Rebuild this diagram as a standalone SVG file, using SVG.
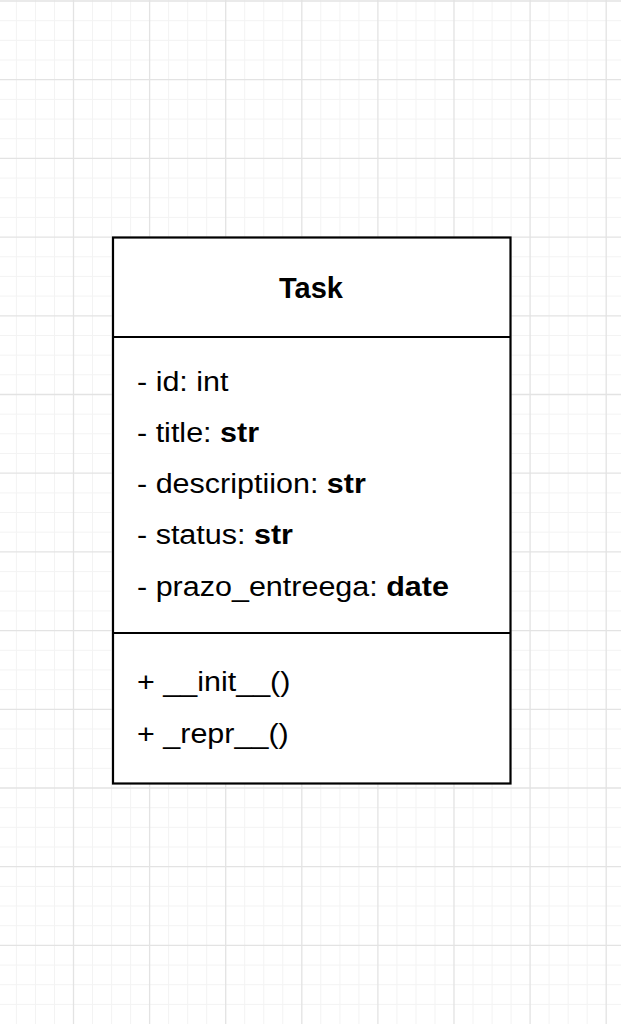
<svg xmlns="http://www.w3.org/2000/svg" width="621" height="1024" viewBox="0 0 621 1024">
<style>
.minor{stroke:#f3f3f3;stroke-width:1;fill:none}
.major{stroke:#e3e3e3;stroke-width:1.3;fill:none}
.box{fill:#ffffff;stroke:#000000;stroke-width:2.2}
.div{stroke:#000000;stroke-width:2}
.t{font-family:"Liberation Sans",Arial,Helvetica,sans-serif;font-size:27px;fill:#000000}
.b{font-weight:bold}
.title{font-family:"Liberation Sans",Arial,Helvetica,sans-serif;font-size:29px;font-weight:bold;fill:#000000}
</style>
<rect x="0" y="0" width="621" height="1024" fill="#ffffff"/>
<g id="grid">
<path class="minor" d="M16.4 0V1024M35.45 0V1024M54.5 0V1024M92.5 0V1024M111.6 0V1024M130.6 0V1024M168.6 0V1024M187.7 0V1024M206.7 0V1024M244.7 0V1024M263.8 0V1024M282.8 0V1024M320.8 0V1024M339.9 0V1024M358.9 0V1024M396.9 0V1024M416 0V1024M435 0V1024M473 0V1024M492.1 0V1024M511.1 0V1024M549.1 0V1024M568.2 0V1024M587.2 0V1024
M0 20.7H621M0 40.35H621M0 60H621M0 99.4H621M0 119.05H621M0 138.7H621M0 178.1H621M0 197.75H621M0 217.4H621M0 256.8H621M0 276.4H621M0 296.1H621M0 335.5H621M0 355.2H621M0 374.8H621M0 414.2H621M0 433.8H621M0 453.5H621M0 492.9H621M0 512.5H621M0 532.2H621M0 571.6H621M0 591.2H621M0 610.9H621M0 650.3H621M0 669.9H621M0 689.6H621M0 729H621M0 748.6H621M0 768.3H621M0 807.7H621M0 827.3H621M0 847H621M0 886.4H621M0 906H621M0 925.7H621M0 965.1H621M0 984.7H621M0 1004.4H621"/>
<path class="major" d="M73.5 0V1024M149.6 0V1024M225.7 0V1024M301.8 0V1024M377.9 0V1024M454 0V1024M530.1 0V1024M606.2 0V1024
M0 1H621M0 79.7H621M0 158.4H621M0 237.1H621M0 315.8H621M0 394.5H621M0 473.2H621M0 551.9H621M0 630.6H621M0 709.3H621M0 788H621M0 866.7H621M0 945.4H621"/>
</g>
<g id="connectors"></g>
<g id="task">
<rect class="box" x="113" y="237.5" width="397.5" height="546"/>
<line class="div" x1="113" y1="337" x2="510.5" y2="337"/>
<line class="div" x1="113" y1="633" x2="510.5" y2="633"/>
<text class="title" x="311" y="298" text-anchor="middle">Task</text>
<g transform="matrix(1.13 0 0 1 -17.8 0)">
<text class="t" x="137" y="391">- id: int</text>
<text class="t" x="137" y="442">- title: <tspan class="b">str</tspan></text>
<text class="t" x="137" y="493">- descriptiion: <tspan class="b">str</tspan></text>
<text class="t" x="137" y="544">- status: <tspan class="b">str</tspan></text>
<text class="t" x="137" y="596">- prazo_entreega: <tspan class="b">date</tspan></text>
<text class="t" x="137" y="691">+ __init__()</text>
<text class="t" x="137" y="743">+ _repr__()</text>
</g>
</g>
</svg>
